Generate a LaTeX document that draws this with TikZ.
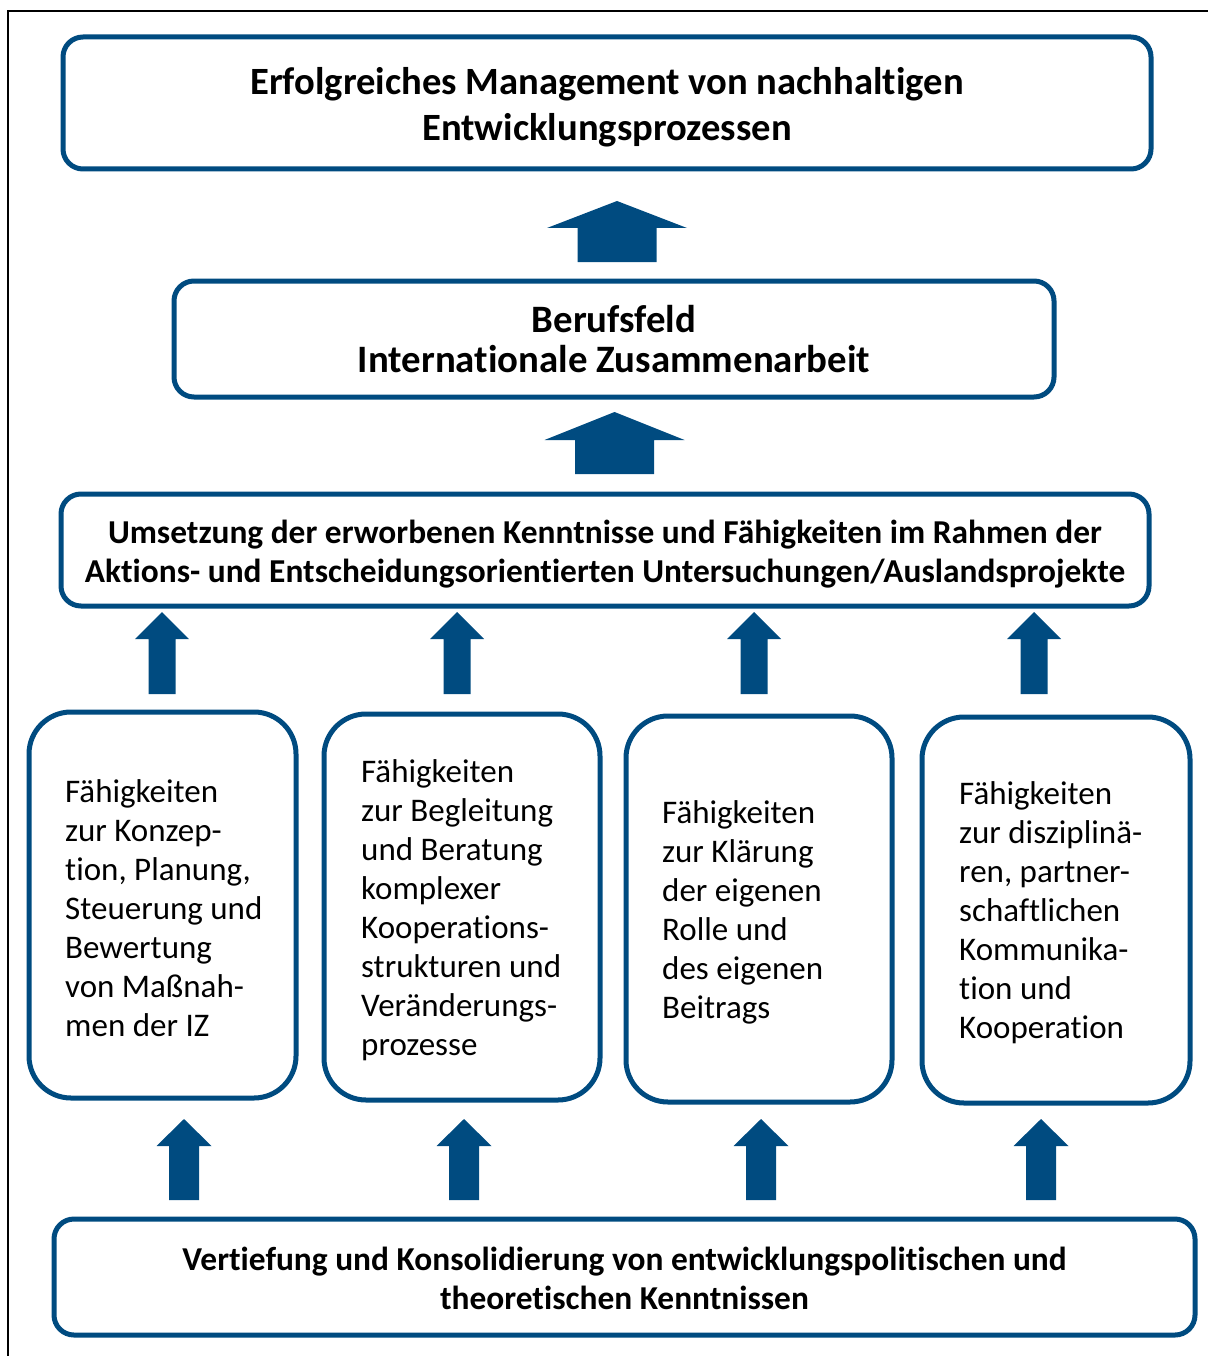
\documentclass[tikz,border=0pt]{standalone}
\usepackage{fontspec}
\setmainfont[Ligatures=NoCommon]{Carlito}
\definecolor{iz}{RGB}{0,75,128}
\newcommand{\blockup}[6]{% cx, tip, base, bottom, head half width, shaft half width
  \fill[iz] (#1,#2) -- ({#1+#5},#3) -- ({#1+#6},#3) -- ({#1+#6},#4) -- ({#1-#6},#4) -- ({#1-#6},#3) -- ({#1-#5},#3) -- cycle;}
\begin{document}
\begin{tikzpicture}[x=1pt,y=-1pt,
  box/.style={draw=iz, line width=5pt, rounded corners=20pt, inner sep=0pt, outer sep=0pt},
  smallbox/.style={draw=iz, line width=5pt, rounded corners=42pt, inner sep=0pt, outer sep=0pt, minimum height=386pt},
  bigtext/.style={align=center, inner sep=0pt, text=black, font={\bfseries\fontsize{38.6}{46}\selectfont}},
  midtext/.style={align=center, inner sep=0pt, text=black, font={\bfseries\fontsize{33.4}{39}\selectfont}},
  smalltext/.style={align=left, inner sep=0pt, anchor=west, text=black, font={\fontsize{33}{39}\selectfont}}]
\useasboundingbox (0,0) rectangle (1208,1356);
\draw[line width=2pt] (8,1356) -- (8,11) -- (1208,11);

\node[box, minimum width=1088pt, minimum height=132pt] (top) at (607,103) {};
\node[bigtext] (toptxt) at ([yshift=-4pt]top.center) {Erfolgreiches Management von nachhaltigen\\Entwicklungsprozessen};

\node[box, minimum width=880pt, minimum height=116pt] (field) at (614,339) {};
\node[bigtext, font={\bfseries\fontsize{38.8}{40}\selectfont}] (fieldtxt) at (field.center) {Berufsfeld\\Internationale Zusammenarbeit};

\node[box, minimum width=1088pt, minimum height=112pt] (umsetz) at (605,550) {};
\node[midtext] (umsetztxt) at ([yshift=-4pt]umsetz.center) {Umsetzung der erworbenen Kenntnisse und Fähigkeiten im Rahmen der\\Aktions- und Entscheidungsorientierten Untersuchungen/Auslandsprojekte};

\node[box, minimum width=1141pt, minimum height=116pt] (basis) at (624.5,1277) {};
\node[midtext] (basistxt) at ([yshift=-1.5pt]basis.center) {Vertiefung und Konsolidierung von entwicklungspolitischen und\\theoretischen Kenntnissen};

\node[smallbox, minimum width=267pt] (fa) at (162.5,905) {};
\node[smalltext] (fatxt) at ([xshift=36pt,yshift=-3pt]fa.west)
  {Fähigkeiten\\zur Konzep-\\tion, Planung,\\Steuerung und\\Bewertung\\von Maßnah-\\men der IZ};
\node[smallbox, minimum width=276pt] (fb) at (462,907) {};
\node[smalltext] (fbtxt) at ([xshift=37pt,yshift=-3pt]fb.west)
  {Fähigkeiten\\zur Begleitung\\und Beratung\\komplexer\\Kooperations-\\strukturen und\\Veränderungs-\\prozesse};
\node[smallbox, minimum width=266pt] (fc) at (759,909) {};
\node[smalltext] (fctxt) at ([xshift=36pt,yshift=-3pt]fc.west)
  {Fähigkeiten\\zur Klärung\\der eigenen\\Rolle und\\des eigenen\\Beitrags};
\node[smallbox, minimum width=268pt] (fd) at (1056,910) {};
\node[smalltext] (fdtxt) at ([xshift=37pt,yshift=-3pt]fd.west)
  {Fähigkeiten\\zur disziplinä-\\ren, partner-\\schaftlichen\\Kommunika-\\tion und\\Kooperation};

% big arrows
\blockup{617}{201}{228}{262}{70}{39.5}
\blockup{614.5}{412}{440}{474}{70}{39.5}
% upper small arrows
\foreach \cx in {162,457,754,1034} {\blockup{\cx}{612}{639}{694}{27}{13.5}}
% lower small arrows
\foreach \cx in {184,464,761,1041} {\blockup{\cx}{1119}{1146}{1200}{27.5}{15}}
\end{tikzpicture}
\end{document}
